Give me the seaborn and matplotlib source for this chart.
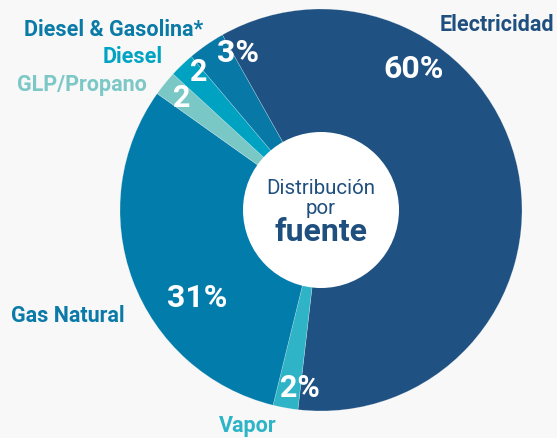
import matplotlib
matplotlib.use("Agg")
import matplotlib.pyplot as plt
from matplotlib.patches import Circle
import seaborn as sns

# data
fuentes = ['Electricidad', 'Vapor', 'Gas Natural', 'GLP/Propano', 'Diesel', 'Diesel & Gasolina*']
valores = [60, 2, 31, 2, 2, 3]
etiquetas_pct = ['60%', '2%', '31%', '2', '2', '3%']
colores = ['#1f5282', '#2eb4c6', '#027dab', '#7ac8c6', '#00a2c1', '#0878a7']
colores_texto = ['#1f4f7f', '#2db4c6', '#0a7aa8', '#7cc8c6', '#00a3c3', '#0a7aa7']

sns.set_theme(style="white")
plt.rcParams['font.family'] = ['Roboto', 'DejaVu Sans']

W, H = 557, 439
fig = plt.figure(figsize=(W / 100, H / 100), dpi=100)
fig.patch.set_facecolor('#f8f8f8')
ax = fig.add_axes([0, 0, 1, 1])
ax.set_facecolor('#f8f8f8')

cx, cy, r = 321, H - 211, 201
wedges, _ = ax.pie(valores, colors=colores, startangle=119.4, counterclock=False,
                   center=(cx, cy), radius=r,
                   wedgeprops=dict(edgecolor=(1, 1, 1, 0.35), linewidth=0.4))
ax.add_patch(Circle((cx, cy), 78, facecolor='white', edgecolor='none', zorder=3))
ax.set_xlim(0, W)
ax.set_ylim(0, H)
ax.set_aspect('auto')
ax.axis('off')

# label positions (pixels from top-left)
pos_pct = [(414, 69), (300, 388), (197, 298), (182, 98), (199, 72), (238, 53)]
tam_pct = [23, 22, 23, 22, 22, 23]
for (px, py), t, s in zip(pos_pct, etiquetas_pct, tam_pct):
    ax.text(px, H - py, t, color='white', fontsize=s, fontweight='bold',
            ha='center', va='center', zorder=4)

pos_nombre = [(497, 25), (248, 426), (68, 316), (82, 85), (133, 57), (114, 30)]
for (px, py), t, c in zip(pos_nombre, fuentes, colores_texto):
    ax.text(px, H - py, t, color=c, fontsize=15.5, fontweight='bold',
            ha='center', va='center', zorder=4)

ax.text(cx, H - 188, 'Distribución', color='#1f4f7f', fontsize=14.8,
        ha='center', va='center', zorder=4)
ax.text(cx, H - 209, 'por', color='#1f4f7f', fontsize=14.8,
        ha='center', va='center', zorder=4)
ax.text(cx, H - 232, 'fuente', color='#1f4f7f', fontsize=23, fontweight='bold',
        ha='center', va='center', zorder=4)

fig.savefig('out.png', dpi=100, facecolor=fig.get_facecolor())
